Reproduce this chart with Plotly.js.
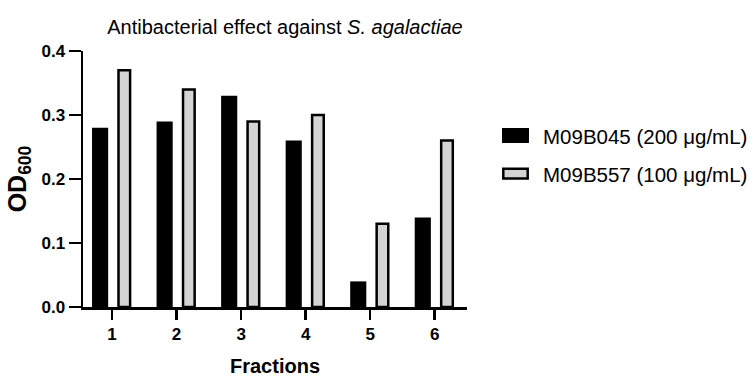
<!DOCTYPE html>
<html>
<head>
<meta charset="utf-8">
<script src="https://cdn.plot.ly/plotly-3.0.1.min.js"></script>
<style>html,body{margin:0;padding:0;background:#fff;}#chart{width:754px;height:378px;}</style>
</head>
<body>
<div id="chart"></div>
<script>
const fractions = [1, 2, 3, 4, 5, 6];
const m09b045 = [0.28, 0.29, 0.33, 0.26, 0.04, 0.14];
const m09b557 = [0.37, 0.34, 0.29, 0.30, 0.13, 0.26];
const seriesNames = ["M09B045 (200 \u03bcg/mL)", "M09B557 (100 \u03bcg/mL)"];
const yTicks = [0.0, 0.1, 0.2, 0.3, 0.4];
const yTickText = ["0.0", "0.1", "0.2", "0.3", "0.4"];

const font = "Liberation Sans, Arial, sans-serif";
const colors = ["#000000", "#d4d4d4"];

const traces = [
  {type: "bar", x: fractions, y: m09b045, name: seriesNames[0],
   width: 0.25, offset: -0.31, showlegend: false,
   marker: {color: colors[0], line: {color: "#000000", width: 0}}},
  {type: "bar", x: fractions, y: m09b557, name: seriesNames[1],
   width: 0.18, offset: 0.10, showlegend: false,
   marker: {color: colors[1], line: {color: "#000000", width: 2.5}}}
];

// custom legend (swatches + labels) in paper coordinates
const L = 83, W = 384, T = 51, H = 256;
const px = v => (v - L) / W;
const py = v => 1 - (v - T) / H;
const legendShapes = [
  {type: "rect", xref: "paper", yref: "paper", x0: px(502), x1: px(529), y0: py(143), y1: py(128),
   fillcolor: colors[0], line: {color: "#000", width: 0}},
  {type: "rect", xref: "paper", yref: "paper", x0: px(503.3), x1: px(527.7), y0: py(178.5), y1: py(168.8),
   fillcolor: colors[1], line: {color: "#000", width: 2.5}}
];
const legendAnn = [
  {xref: "paper", yref: "paper", x: px(541), y: py(136), xanchor: "left", yanchor: "middle",
   text: seriesNames[0], showarrow: false, font: {family: font, size: 20.5, color: "#000"}},
  {xref: "paper", yref: "paper", x: px(541), y: py(174), xanchor: "left", yanchor: "middle",
   text: seriesNames[1], showarrow: false, font: {family: font, size: 20.5, color: "#000"}}
];

const layout = {
  width: 754, height: 378,
  margin: {l: L, r: 754 - L - W, t: T, b: 378 - T - H},
  paper_bgcolor: "#ffffff", plot_bgcolor: "#ffffff",
  barmode: "overlay",
  font: {family: font, color: "#000"},
  title: {text: "Antibacterial effect against <i>S. agalactiae</i>",
          font: {family: font, size: 20, color: "#000"},
          x: 285 / 754, xanchor: "center", y: 1 - 27 / 378, yanchor: "middle"},
  xaxis: {range: [0.55, 6.5], tickvals: fractions, ticktext: fractions.map(String),
          showline: true, linecolor: "#000", linewidth: 2.5,
          ticks: "outside", ticklen: 10, tickwidth: 2.5, tickcolor: "#000",
          showgrid: false, zeroline: false,
          tickfont: {family: font, size: 17, color: "#000", weight: "bold"},
          title: {text: "<b>Fractions</b>", font: {family: font, size: 20, color: "#000"}, standoff: 16}},
  yaxis: {range: [0, 0.4], tickvals: yTicks, ticktext: yTickText,
          showline: true, linecolor: "#000", linewidth: 2.5,
          ticks: "outside", ticklen: 12, tickwidth: 2.5, tickcolor: "#000",
          showgrid: false, zeroline: false,
          tickfont: {family: font, size: 17, color: "#000", weight: "bold"},
          title: {text: "<b>OD<sub>600</sub></b>",
                  font: {family: font, size: 25, color: "#000"}, standoff: 8}},
  shapes: legendShapes,
  annotations: legendAnn,
  showlegend: false
};

Plotly.newPlot("chart", traces, layout, {displayModeBar: false, staticPlot: true});
</script>
</body>
</html>
